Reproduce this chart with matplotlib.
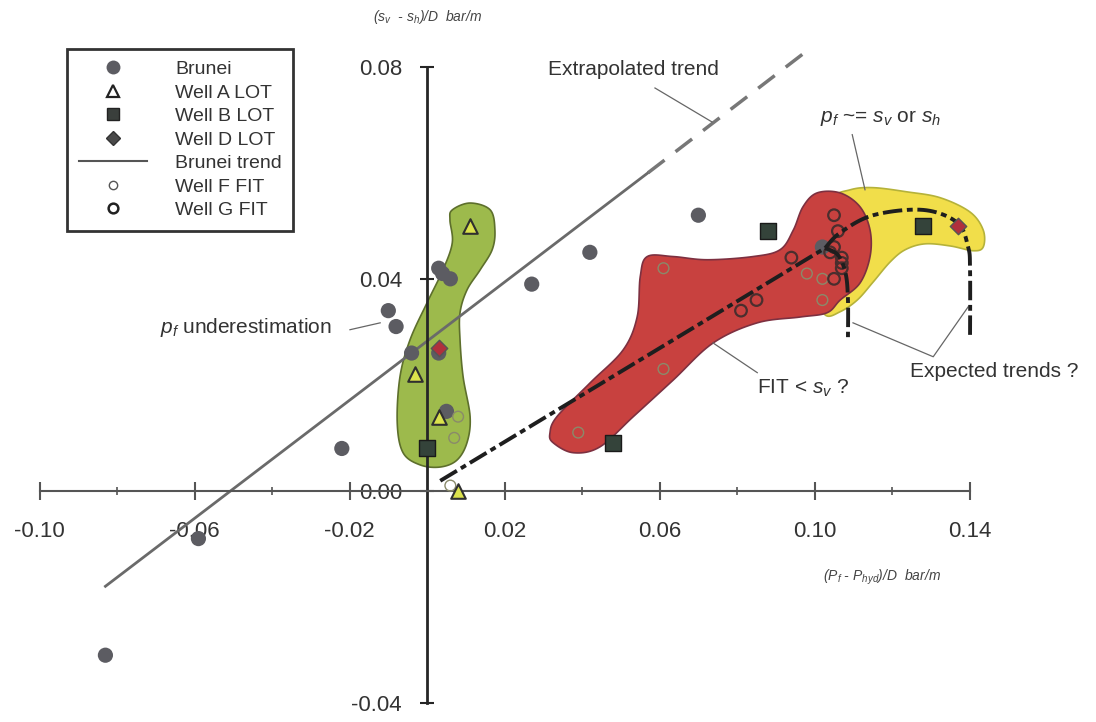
import numpy as np
import matplotlib.pyplot as plt
from matplotlib.lines import Line2D

plt.rcParams['font.family'] = 'Liberation Sans'
plt.rcParams['mathtext.fontset'] = 'custom'
plt.rcParams['mathtext.it'] = 'Liberation Sans:italic'
plt.rcParams['mathtext.rm'] = 'Liberation Sans'

# ---- data ----
brunei_x = [-0.083, -0.059, -0.022, -0.010, -0.008, -0.004, 0.003, 0.004, 0.006, 0.003, 0.005, 0.027, 0.042, 0.070, 0.102]
brunei_y = [-0.031, -0.009, 0.008, 0.034, 0.031, 0.026, 0.042, 0.041, 0.040, 0.026, 0.015, 0.039, 0.045, 0.052, 0.046]

wellA_x = [0.011, -0.003, 0.003, 0.008]
wellA_y = [0.050, 0.022, 0.014, 0.000]

wellB_x = [0.000, 0.048, 0.088, 0.128]
wellB_y = [0.008, 0.009, 0.049, 0.050]

wellD_x = [0.003, 0.137]
wellD_y = [0.027, 0.050]

wellF_x = [0.008, 0.007, 0.006, 0.061, 0.061, 0.039, 0.098, 0.102, 0.102]
wellF_y = [0.014, 0.010, 0.001, 0.042, 0.023, 0.011, 0.041, 0.040, 0.036]

wellG_x = [0.105, 0.106, 0.094, 0.085, 0.081, 0.107, 0.105, 0.105, 0.107, 0.104, 0.107]
wellG_y = [0.052, 0.049, 0.044, 0.036, 0.034, 0.042, 0.040, 0.046, 0.044, 0.045, 0.043]

trend_x = [-0.083, 0.057]
trend_y = [-0.018, 0.060]
extrap_x = [0.057, 0.098]
extrap_y = [0.060, 0.083]

fit_x = [0.0034, 0.1027]
fit_y = [0.0019, 0.0458]
branch1_x = [0.1027, 0.106, 0.108, 0.1086, 0.1086]
branch1_y = [0.0458, 0.0445, 0.041, 0.036, 0.029]
branch2_x = [0.1027, 0.1066, 0.1151, 0.128, 0.1368, 0.1396, 0.1401, 0.1401]
branch2_y = [0.0458, 0.0487, 0.052, 0.053, 0.0506, 0.046, 0.0417, 0.029]

# outlines of the shaded zones
green_x = [0.0065, 0.0111, 0.0163, 0.0175, 0.0168, 0.0137, 0.0103, 0.0085, 0.0085, 0.0093, 0.0111, 0.0103,
           0.0077, 0.0034, -0.0018, -0.0062, -0.0077, -0.0070, -0.0044, 0.0000, 0.0041, 0.0065, 0.0059]
green_y = [0.0530, 0.0543, 0.0530, 0.0492, 0.0455, 0.0417, 0.0379, 0.0336, 0.0285, 0.0215, 0.0140, 0.0091,
           0.0058, 0.0045, 0.0049, 0.0072, 0.0128, 0.0215, 0.0285, 0.0355, 0.0417, 0.0468, 0.0511]

red_x = [0.0325, 0.0377, 0.0446, 0.0532, 0.0635, 0.0738, 0.0852, 0.0963, 0.1032, 0.1066, 0.1117, 0.1143, 0.1143,
         0.1117, 0.1066, 0.1006, 0.0970, 0.0945, 0.0911, 0.0841, 0.0723, 0.0635, 0.0568, 0.0550, 0.0542, 0.0506,
         0.0421, 0.0335, 0.0317]
red_y = [0.0091, 0.0072, 0.0083, 0.0140, 0.0209, 0.0279, 0.0317, 0.0328, 0.0336, 0.0360, 0.0392, 0.0442, 0.0492,
         0.0536, 0.0562, 0.0562, 0.0536, 0.0492, 0.0455, 0.0442, 0.0436, 0.0442, 0.0442, 0.0404, 0.0328, 0.0266,
         0.0204, 0.0140, 0.0109]

yellow_x = [0.1040, 0.1092, 0.1151, 0.1239, 0.1324, 0.1401, 0.1435, 0.1435, 0.1409, 0.1350, 0.1285, 0.1234,
            0.1195, 0.1151, 0.1110, 0.1066, 0.1027, 0.1001, 0.1001]
yellow_y = [0.0549, 0.0568, 0.0572, 0.0564, 0.0553, 0.0526, 0.0492, 0.0460, 0.0453, 0.0462, 0.0466, 0.0455,
            0.0432, 0.0394, 0.0360, 0.0338, 0.0332, 0.0379, 0.0474]

xtick_major = [-0.10, -0.06, -0.02, 0.02, 0.06, 0.10, 0.14]
xtick_minor = [-0.08, -0.04, 0.04, 0.08, 0.12]
ytick_major = [-0.04, 0.00, 0.04, 0.08]


def catmull(xs, ys, closed=True, n=12):
    p = np.column_stack([xs, ys])
    k = len(p)
    out = []
    rng = range(k) if closed else range(k - 1)
    for i in rng:
        if closed:
            p0, p1, p2, p3 = p[i - 1], p[i], p[(i + 1) % k], p[(i + 2) % k]
        else:
            p0 = p[max(i - 1, 0)]
            p1, p2 = p[i], p[i + 1]
            p3 = p[min(i + 2, k - 1)]
        for t in np.linspace(0, 1, n, endpoint=False):
            out.append(0.5 * (2 * p1 + (-p0 + p2) * t + (2 * p0 - 5 * p1 + 4 * p2 - p3) * t ** 2
                              + (-p0 + 3 * p1 - 3 * p2 + p3) * t ** 3))
    if not closed:
        out.append(p[-1])
    out = np.array(out)
    return out[:, 0], out[:, 1]


fig = plt.figure(figsize=(10.96, 7.22), dpi=100)
ax = fig.add_axes([0, 0, 1, 1])
ax.set_xlim(-0.1102, 0.1726)
ax.set_ylim(-0.0436, 0.0926)

# shaded zones
gx, gy = catmull(green_x, green_y)
ax.fill(gx, gy, facecolor='#9dba4c', edgecolor='#5d6f2c', lw=1.2, zorder=1)
yx, yy = catmull(yellow_x, yellow_y)
ax.fill(yx, yy, facecolor='#f1de4a', edgecolor='#b5b23a', lw=1.2, zorder=1)
rx, ry = catmull(red_x, red_y)
ax.fill(rx, ry, facecolor='#c8413f', edgecolor='#7d3040', lw=1.2, zorder=2)

# trend lines
ax.plot(trend_x, trend_y, color='#6a6a6a', lw=2, zorder=3)
ax.plot(extrap_x, extrap_y, color='#777777', lw=2.5, dashes=(6, 4), zorder=3)
ax.plot(fit_x, fit_y, color='#1e1e1e', lw=2.8, dashes=(5, 1.2, 1.5, 1.2), zorder=6)
b1x, b1y = catmull(branch1_x, branch1_y, closed=False)
ax.plot(b1x, b1y, color='#1e1e1e', lw=2.8, dashes=(5, 1.2, 1.5, 1.2), zorder=6)
b2x, b2y = catmull(branch2_x, branch2_y, closed=False)
ax.plot(b2x, b2y, color='#1e1e1e', lw=2.8, dashes=(5, 1.2, 1.5, 1.2), zorder=6)

# data points
ax.scatter(brunei_x, brunei_y, s=120, color='#5c5c62', edgecolors='none', zorder=4)
ax.scatter(wellF_x, wellF_y, s=60, facecolors='none', edgecolors='#8a8a6a', linewidths=1.0, zorder=5)
ax.scatter(wellG_x, wellG_y, s=70, facecolors='none', edgecolors='#4a2e2e', linewidths=1.6, zorder=5)
ax.scatter(wellA_x, wellA_y, s=110, marker='^', color='#dbe24c', edgecolors='#2f2f2f', linewidths=1.5, zorder=7)
ax.scatter(wellB_x, wellB_y, s=120, marker='s', color='#34433a', edgecolors='#1a1a1a', linewidths=1.0, zorder=7)
ax.scatter(wellD_x, wellD_y, s=70, marker='D', color='#b0303c', edgecolors='#555555', linewidths=1.0, zorder=7)

# axes through the origin
for side in ['top', 'right']:
    ax.spines[side].set_visible(False)
ax.spines['left'].set_position(('data', 0))
ax.spines['bottom'].set_position(('data', 0))
ax.spines['left'].set_bounds(-0.04, 0.08)
ax.spines['bottom'].set_bounds(-0.10, 0.14)
ax.spines['left'].set_color('#262626')
ax.spines['left'].set_linewidth(2)
ax.spines['bottom'].set_color('#555555')
ax.spines['bottom'].set_linewidth(1.5)
ax.spines['left'].set_zorder(3)
ax.spines['bottom'].set_zorder(3)

ax.set_xticks(xtick_major)
ax.set_xticklabels(['%.2f' % v for v in xtick_major])
ax.set_xticks(xtick_minor, minor=True)
ax.set_yticks(ytick_major)
ax.set_yticklabels(['%.2f' % v for v in ytick_major])
ax.tick_params(axis='x', which='major', direction='inout', length=13, width=1.5, color='#555555',
               labelsize=16, labelcolor='#333333', pad=15)
ax.tick_params(axis='x', which='minor', direction='inout', length=6, width=1.2, color='#555555')
ax.tick_params(axis='y', which='major', direction='inout', length=10, width=1.5, color='#262626',
               labelsize=16, labelcolor='#333333', pad=13)

# axis titles
ax.text(0.0, 0.0894, r'(s$_v$  - s$_h$)/D  bar/m', ha='center', va='center', fontsize=10,
        style='italic', color='#444444')
ax.text(0.1174, -0.0164, r'(P$_f$ - P$_{hyd}$)/D  bar/m', ha='center', va='center', fontsize=10,
        style='italic', color='#444444')

# annotations
lead = dict(color='#666666', lw=0.9, zorder=3)
ax.text(0.0532, 0.0794, 'Extrapolated trend', ha='center', va='center', fontsize=15, color='#333333')
ax.plot([0.0588, 0.0735], [0.0760, 0.0696], **lead)
ax.text(0.1169, 0.0704, r'$p_f$ ~= $s_v$ or $s_h$', ha='center', va='center', fontsize=15, color='#333333')
ax.plot([0.1097, 0.1130], [0.0672, 0.0568], **lead)
ax.text(-0.0245, 0.0308, r'$p_f$ underestimation', ha='right', va='center', fontsize=15, color='#333333')
ax.plot([-0.0199, -0.0121], [0.0304, 0.0317], **lead)
ax.text(0.0852, 0.0194, r'FIT < $s_v$ ?', ha='left', va='center', fontsize=15, color='#333333')
ax.plot([0.0738, 0.0852], [0.0279, 0.0223], **lead)
ax.text(0.1246, 0.0225, 'Expected trends ?', ha='left', va='center', fontsize=15, color='#333333')
ax.plot([0.1099, 0.1306, 0.1396], [0.0317, 0.0253, 0.0347], **lead)

# legend
handles = [
    Line2D([], [], ls='none', marker='o', ms=10, color='#5c5c62', mec='none'),
    Line2D([], [], ls='none', marker='^', ms=8, mfc='white', mec='#222222', mew=1.6),
    Line2D([], [], ls='none', marker='s', ms=9, color='#3a3f3c', mec='#222222'),
    Line2D([], [], ls='none', marker='D', ms=7, color='#4a4a4a', mec='#333333'),
    Line2D([], [], color='#555555', lw=1.5),
    Line2D([], [], ls='none', marker='o', ms=6, mfc='white', mec='#555555', mew=1.0),
    Line2D([], [], ls='none', marker='o', ms=7, mfc='white', mec='#222222', mew=1.8),
]
labels = ['Brunei', 'Well A LOT', 'Well B LOT', 'Well D LOT', 'Brunei trend', 'Well F FIT', 'Well G FIT']
leg = ax.legend(handles, labels, loc='upper left', bbox_to_anchor=(67 / 1096, 1 - 49 / 722),
                bbox_transform=fig.transFigure, borderaxespad=0, fontsize=14, frameon=True,
                fancybox=False, edgecolor='black', handlelength=3.5, handletextpad=1.45,
                labelspacing=0.3, borderpad=0.6, labelcolor='#333333')
leg.get_frame().set_linewidth(2)
leg.set_zorder(10)

fig.savefig('out.png', dpi=100, facecolor='white')
